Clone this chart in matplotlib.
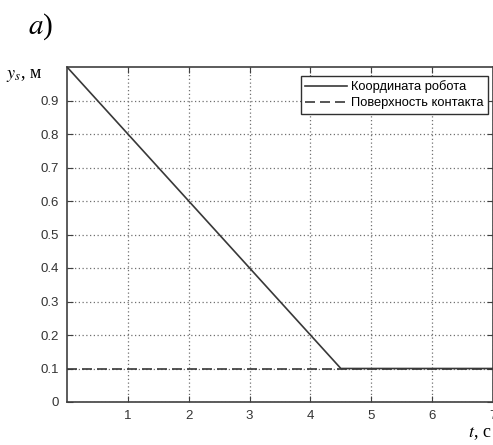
import matplotlib.pyplot as plt

# Data
t_robot = [0.0, 4.5, 7.0]
y_robot = [1.0, 0.1, 0.1]
t_surface = [0.0, 7.0]
y_surface = [0.1, 0.1]
xticks = [1, 2, 3, 4, 5, 6, 7]
yticks = [0, 0.1, 0.2, 0.3, 0.4, 0.5, 0.6, 0.7, 0.8, 0.9]
ytick_labels = ['0', '0.1', '0.2', '0.3', '0.4', '0.5', '0.6', '0.7', '0.8', '0.9']

sans = 'Liberation Sans'
serif = 'Liberation Serif'

fig = plt.figure(figsize=(4.93, 4.45), dpi=100)
ax = fig.add_axes([67 / 493, 43 / 445, 1 - 67 / 493, (402 - 67) / 445])

ax.plot(t_surface, y_surface, color='#383838', linestyle=(0, (6, 3)), linewidth=1.2,
        label='Поверхность контакта', zorder=3)
ax.plot(t_robot, y_robot, color='#383838', linewidth=1.2,
        label='Координата робота', zorder=4)

ax.set_xlim(0, 7)
ax.set_ylim(0, 1)
ax.set_xticks(xticks)
ax.set_yticks(yticks)
ax.set_yticklabels(ytick_labels)
ax.grid(True, linestyle=(0, (1, 2)), color='#707070', linewidth=0.9)
ax.tick_params(direction='in', length=4, color='#404040', labelsize=9.5,
               labelcolor='#333333', top=True, right=True, pad=6)
for lbl in ax.get_xticklabels() + ax.get_yticklabels():
    lbl.set_family(sans)
for sp in ax.spines.values():
    sp.set_color('#404040')
    sp.set_linewidth(1.2)

handles, labels = ax.get_legend_handles_labels()
leg = ax.legend(handles[::-1], labels[::-1], loc='upper right', bbox_to_anchor=(0.9965, 0.985),
                prop={'family': sans, 'size': 9.3}, fancybox=False, framealpha=1,
                edgecolor='#303030', handlelength=3.2, handletextpad=0.3,
                borderpad=0.35, labelspacing=0.3, borderaxespad=0.3)
leg.get_frame().set_linewidth(1.0)

fig.text(28 / 493, 1 - 27 / 445, r'$a$)', family=serif, fontsize=21,
         va='center', ha='left', math_fontfamily='stix')
fig.text(6 / 493, 1 - 76 / 445, r'$y_s$, м', family=serif, fontsize=13,
         va='center', ha='left', math_fontfamily='stix')
fig.text(468 / 493, 1 - 433 / 445, r'$t$, с', family=serif, fontsize=13,
         va='center', ha='left', math_fontfamily='stix')

fig.savefig('out.png', dpi=100)
